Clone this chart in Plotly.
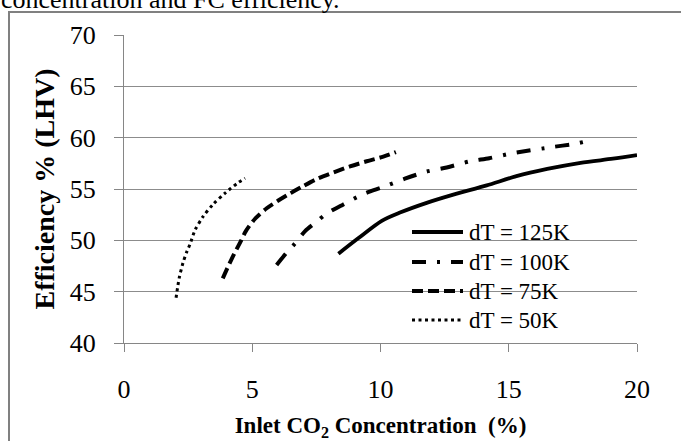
import plotly.graph_objects as go

# ---- data ----
names = ["dT = 125K", "dT = 100K", "dT = 75K", "dT = 50K"]

x125 = [8.36, 9.13, 10.05, 10.76, 11.8, 12.84, 14.14, 15.3, 16.5, 17.8, 19.06, 20.0]
y125 = [48.7, 50.2, 51.9, 52.7, 53.65, 54.45, 55.35, 56.25, 56.95, 57.55, 57.95, 58.3]

x100 = [5.95, 6.34, 6.67, 7.06, 7.45, 7.9, 8.55, 9.33, 10.11, 10.95, 11.8, 12.58, 13.49,
        14.24, 15.18, 16.73, 17.58, 18.3]
y100 = [47.6, 48.8, 49.7, 50.9, 51.7, 52.6, 53.5, 54.5, 55.2, 56.0, 56.7, 57.1, 57.7,
        58.0, 58.5, 59.1, 59.4, 59.8]

x75 = [3.85, 4.2, 4.55, 4.75, 5.11, 5.55, 6.0, 6.5, 7.0, 7.5, 8.16, 8.81, 9.46, 10.11, 10.6]
y75 = [46.3, 48.2, 49.9, 50.9, 52.1, 53.1, 53.85, 54.6, 55.3, 55.95, 56.6, 57.2, 57.7, 58.15, 58.6]

x50 = [2.03, 2.15, 2.3, 2.45, 2.57, 2.77, 3.08, 3.47, 3.94, 4.44, 4.72]
y50 = [44.4, 46.3, 47.8, 48.9, 49.6, 51.0, 52.3, 53.5, 54.6, 55.6, 56.05]

xs = [x125, x100, x75, x50]
ys = [y125, y100, y75, y50]

x_ticks = [0, 5, 10, 15, 20]
y_ticks = [40, 45, 50, 55, 60, 65, 70]

styles = [
    dict(width=3.8, dash="solid"),
    dict(width=4, dash="14px,11px,3px,11px"),
    dict(width=4, dash="11px,5px"),
    dict(width=3, dash="3px,3.5px"),
]

FONT = "Liberation Serif"
W, H = 681, 441
L, R, T, B = 124, 44, 35, 98
PW, PH = W - L - R, H - T - B


def px(xp):
    return (xp - L) / PW


def py(yp):
    return (H - B - yp) / PH


fig = go.Figure()
for name, xv, yv, st in zip(names, xs, ys, styles):
    fig.add_trace(go.Scatter(
        x=xv, y=yv, mode="lines", name=name, showlegend=False,
        line=dict(color="black", width=st["width"], dash=st["dash"],
                  shape="spline", smoothing=0.8),
    ))

shapes = []
annotations = []

# outer frame of the chart (only left and top visible)
shapes.append(dict(type="rect", xref="paper", yref="paper", layer="below",
                   x0=px(9), x1=px(730), y0=py(490), y1=py(12),
                   line=dict(color="#808080", width=2), fillcolor="rgba(0,0,0,0)"))

# legend background
shapes.append(dict(type="rect", xref="paper", yref="paper", layer="between",
                   x0=px(383), x1=px(568), y0=py(336), y1=py(221),
                   line=dict(width=0), fillcolor="white"))

rows = [232, 262, 291, 320]
for name, st, r in zip(names, styles, rows):
    shapes.append(dict(type="line", xref="paper", yref="paper", layer="above",
                       x0=px(412), x1=px(463), y0=py(r), y1=py(r),
                       line=dict(color="black", width=st["width"], dash=st["dash"])))
    annotations.append(dict(xref="paper", yref="paper", x=px(467), y=py(r),
                            xanchor="left", yanchor="middle", showarrow=False,
                            text=name, font=dict(family=FONT, size=23, color="black")))

# clipped caption text from the page above the chart
annotations.append(dict(xref="paper", yref="paper", x=px(-1), y=py(-1),
                        xanchor="left", yanchor="middle", showarrow=False,
                        text="concentration and FC efficiency.",
                        font=dict(family=FONT, size=26, color="black")))

fig.update_layout(
    width=W, height=H,
    margin=dict(l=L, r=R, t=T, b=B, pad=0, autoexpand=False),
    paper_bgcolor="white", plot_bgcolor="white",
    shapes=shapes, annotations=annotations,
    xaxis=dict(
        range=[0, 20], tickmode="array", tickvals=x_ticks, automargin=False,
        showgrid=False, zeroline=False,
        showline=True, linecolor="#868686", linewidth=1,
        ticks="outside", ticklen=8, tickcolor="#868686",
        tickfont=dict(family=FONT, size=26, color="black"),
        ticklabelstandoff=15,
        title=dict(text="<b>Inlet CO<sub>2</sub> Concentration  (%)</b>",
                   font=dict(family=FONT, size=23, color="black"), standoff=13),
    ),
    yaxis=dict(
        range=[40, 70], tickmode="array", tickvals=y_ticks, automargin=False,
        showgrid=True, gridcolor="#8c8c8c", gridwidth=1, zeroline=False,
        showline=True, linecolor="#868686", linewidth=1,
        ticks="outside", ticklen=9, tickcolor="#868686",
        tickfont=dict(family=FONT, size=26, color="black"),
        ticklabelstandoff=13,
        title=dict(text="<b>Efficiency % (LHV)</b>",
                   font=dict(family=FONT, size=28, color="black"), standoff=6),
    ),
)

fig.write_html("out.html")
